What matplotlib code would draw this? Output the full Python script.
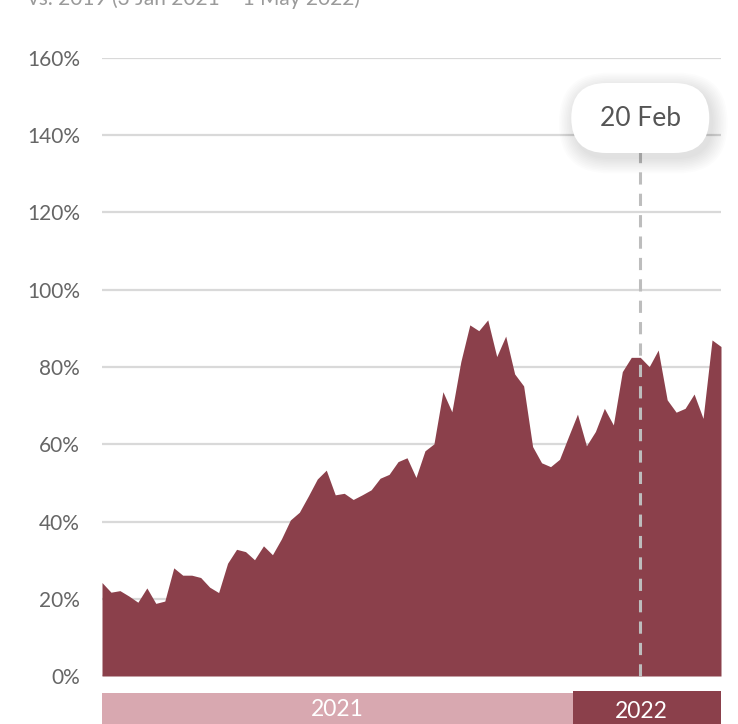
import numpy as np
import pandas as pd
import matplotlib.pyplot as plt
from matplotlib.patches import FancyBboxPatch

# weekly values, % of 2019 level
valores = [24.2, 21.7, 22.1, 20.7, 19.1, 22.8, 18.8, 19.4, 28.0, 26.1,
           26.1, 25.5, 23.0, 21.6, 29.2, 32.8, 32.2, 30.1, 33.7, 31.4,
           35.5, 40.4, 42.4, 46.6, 51.0, 53.3, 46.9, 47.3, 45.7, 46.9,
           48.2, 51.2, 52.2, 55.5, 56.5, 51.4, 58.3, 60.1, 73.6, 68.4,
           81.4, 90.9, 89.4, 92.2, 82.7, 88.0, 78.2, 75.1, 59.4, 55.2,
           54.2, 56.1, 62.0, 67.8, 59.6, 63.3, 69.3, 65.0, 78.8, 82.5,
           82.5, 80.1, 84.4, 71.5, 68.3, 69.3, 73.0, 66.7, 87.0, 85.3]
semanas = pd.date_range("2020-12-27", periods=len(valores), freq="7D")
marcada = pd.Timestamp("2022-02-20")
etiqueta = "20 Feb"
anios = ["2021", "2022"]
ticks_y = [0, 20, 40, 60, 80, 100, 120, 140, 160]

granate = "#8b404b"
rosa = "#d8a8b0"
gris_txt = "#666666"

plt.rcParams['font.family'] = ['Lato', 'DejaVu Sans']

fig = plt.figure(figsize=(7.38, 7.24), dpi=100)
x = np.arange(len(valores))

ax = fig.add_axes([102/738, 48/724, 619/738, 618/724])
ax.fill_between(x, 0, valores, color=granate, lw=0, zorder=2)
ax.set_xlim(0, len(valores) - 1)
ax.set_ylim(0, 160)
ax.set_yticks(ticks_y)
ax.set_yticklabels([f"{t}%" for t in ticks_y], fontsize=15, color=gris_txt)
ax.tick_params(axis='y', length=0, pad=16)
ax.set_xticks([])
for s in ax.spines.values():
    s.set_visible(False)
ax.grid(axis='y', color="#d9d9d9", lw=1.6, zorder=1)
ax.axhline(0, color="#d9d9d9", lw=2.5, zorder=1)
ax.set_axisbelow(True)

# semana destacada
i_marca = int(np.where(semanas == marcada)[0][0])
ax.plot([i_marca, i_marca], [0, 138], color="#bdbdbd", lw=2.2,
        dashes=(4, 3), zorder=3, clip_on=False)

# capa en píxeles para el globo
capa = fig.add_axes([0, 0, 1, 1], zorder=5)
capa.set_xlim(0, 738)
capa.set_ylim(724, 0)
capa.axis('off')
cx = ax.transData.transform((i_marca, 0))[0]
cy, bw, bh = 118, 138, 70
for k in range(10):
    g = 1 + k * 1.6
    sombra = FancyBboxPatch((cx - bw/2 - g + 3, cy - bh/2 - g + 5), bw + 2*g, bh + 2*g,
                            boxstyle=f"round,pad=0,rounding_size={bh/2 + g}",
                            fc="black", ec="none", alpha=0.012, zorder=1)
    capa.add_patch(sombra)
caja = FancyBboxPatch((cx - bw/2, cy - bh/2), bw, bh,
                      boxstyle=f"round,pad=0,rounding_size={bh/2}",
                      fc="white", ec="none", zorder=2)
capa.add_patch(caja)
capa.text(cx, cy + 1, etiqueta, ha='center', va='center', fontsize=19,
          color="#555555", zorder=3)

# barra de años
ax2 = fig.add_axes([102/738, 0, 619/738, 33/724])
ax2.set_xlim(0, len(valores) - 1)
ax2.set_ylim(0, 33)
ax2.axis('off')
corte = int(np.argmax(semanas.year == 2022)) - 0.5
fin = len(valores) - 1
ax2.bar(corte/2, 31, width=corte, color=rosa, lw=0)
ax2.bar((corte + fin)/2, 33, width=fin - corte, color=granate, lw=0)
ax2.text(corte/2, 15, anios[0], ha='center', va='center', fontsize=16.5,
         color="white")
ax2.text((corte + fin)/2 - 0.6, 13, anios[1], ha='center', va='center',
         fontsize=16.5, color="white")

fig.text(28/738, 1 - 5/724, "vs. 2019 (3 Jan 2021 – 1 May 2022)", fontsize=15,
         color="#9a9a9a", va='baseline', ha='left')

fig.savefig("out.png", dpi=100)
plt.close()
